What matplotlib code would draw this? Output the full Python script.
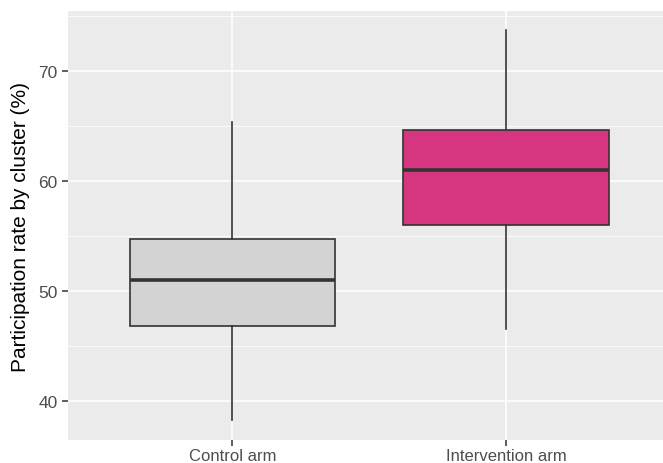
import matplotlib
matplotlib.use("Agg")
import matplotlib.pyplot as plt

plt.rcParams['font.family'] = ['Liberation Sans', 'DejaVu Sans']

# Box statistics
groups = ["Control arm", "Intervention arm"]
whisker_low = [38.3, 46.5]
q1 = [46.8, 56.0]
median = [51.0, 61.0]
q3 = [54.7, 64.6]
whisker_high = [65.4, 73.7]
fills = ["#D3D3D3", "#D6357F"]

stats = []
for i, g in enumerate(groups):
    stats.append({"label": g, "whislo": whisker_low[i], "q1": q1[i], "med": median[i],
                  "q3": q3[i], "whishi": whisker_high[i], "fliers": []})

fig = plt.figure(figsize=(6.63, 4.64), dpi=100)
ax = fig.add_axes([68 / 663, 23 / 464, 1 - 68 / 663, (441 - 12) / 464])
ax.set_facecolor("#EBEBEB")

# grid: major and minor lines like ggplot
for y in [40, 50, 60, 70]:
    ax.axhline(y, color="white", lw=1.1, zorder=0)
for y in [45, 55, 65, 75]:
    ax.axhline(y, color="white", lw=0.55, zorder=0)
for x in [1, 2]:
    ax.axvline(x, color="white", lw=1.1, zorder=0)

bp = ax.bxp(stats, positions=[1, 2], widths=0.75, patch_artist=True, showfliers=False,
            showcaps=False,
            boxprops=dict(edgecolor="#333333", linewidth=1.2),
            whiskerprops=dict(color="#333333", linewidth=1.2),
            medianprops=dict(color="#333333", linewidth=2.6))
for patch, c in zip(bp["boxes"], fills):
    patch.set_facecolor(c)

ax.set_xlim(0.4, 2.573)
ax.set_ylim(36.45, 75.45)
ax.set_yticks([40, 50, 60, 70])
ax.set_xticks([1, 2])
ax.set_xticklabels(groups)
ax.tick_params(colors="#333333", length=4, width=1.1, labelsize=12.5, labelcolor="#4D4D4D")
ax.tick_params(axis="x", pad=1.5, labelsize=12)
for s in ax.spines.values():
    s.set_visible(False)
ax.set_ylabel("Participation rate by cluster (%)", fontsize=15, color="black", labelpad=6)

fig.savefig("out.png", dpi=100)
